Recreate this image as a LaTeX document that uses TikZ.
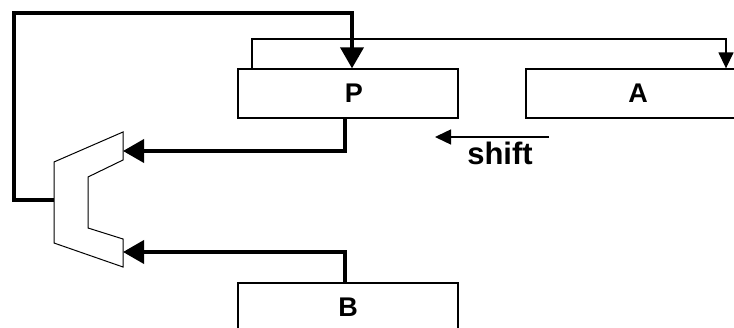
\documentclass[tikz,border=0pt]{standalone}
\usepackage{fontspec}
\setmainfont{Liberation Sans}
\usetikzlibrary{arrows.meta}
\begin{document}
\begin{tikzpicture}[x=1pt,y=-1pt,
  reg/.style={draw, line width=1.3pt, minimum width=220pt, minimum height=49pt, inner sep=0pt, font=\bfseries\fontsize{27}{27}\selectfont},
  thick path/.style={line width=3.8pt, -{Triangle[length=21pt,width=23pt]}},
  thin path/.style={line width=1.4pt, -{Triangle[length=16pt,width=15pt]}}]
\clip (0,0) rectangle (734,328);
\node[reg] (P) at (348,93.5) {\hspace{12pt}P};
\node[reg] (A) at (636,93.5) {\hspace{4pt}A};
\node[reg] (B) at (348,307.5) {B};
% adder
\draw[line width=1pt, fill=white] (54,162) -- (123,132) -- (123,160) -- (88,177) -- (88,228) -- (123,239) -- (123,267) -- (54,243) -- cycle;
\coordinate (in1) at (123,151);
\coordinate (in2) at (123,252);
\coordinate (out) at (54,200);
% feedback
\draw[thick path] (out) -- (14,200) -- (14,13) -- (352,13) -- (352,0 |- P.north);
% P to A
\draw[thin path] (252,0 |- P.north) -- (252,39) -- (726,39) -- (726,0 |- A.north);
% P to adder
\draw[thick path] (345,0 |- P.south) -- (345,151) -- (in1);
% B to adder
\draw[thick path] (345,0 |- B.north) -- (345,252) -- (in2);
% shift
\coordinate (s1) at (549,137);
\coordinate (s2) at (435,137);
\draw[thin path] (s1) -- (s2);
\node[font=\bfseries\fontsize{31}{31}\selectfont] (shift) at (500,153) {shift};
\end{tikzpicture}
\end{document}
